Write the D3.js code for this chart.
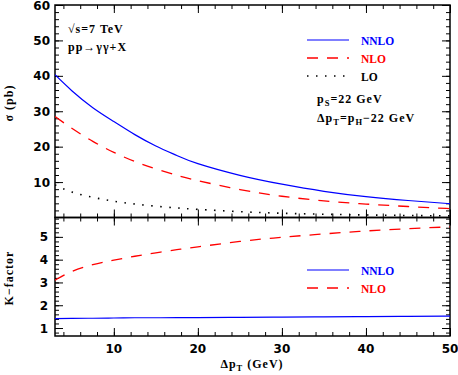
<!DOCTYPE html>
<html>
<head>
<meta charset="utf-8">
<script src="https://cdn.jsdelivr.net/npm/d3@7"></script>
<style>
body { margin: 0; background: #fff }
text { font-family: "Liberation Serif", "DejaVu Serif", serif; font-size: 12px; font-weight: bold }
.wide { letter-spacing: 1px }
.leg { font-size: 11.5px }
.num { font-family: "DejaVu Sans", Arial, sans-serif; font-weight: bold; font-size: 12px; letter-spacing: 0 }
</style>
</head>
<body>
<svg width="458" height="375"></svg>
<script>
// values
var dpt   = [3, 5, 7.5, 10, 12.5, 15, 17.5, 20, 25, 30, 35, 40, 45, 50]
var nnlo  = [40.3, 35.8, 31.0, 27.1, 23.4, 20.2, 17.5, 15.2, 11.9, 9.4, 7.4, 5.9, 4.8, 3.9]
var nlo   = [28.5, 25.2, 21.5, 18.4, 15.8, 13.7, 11.9, 10.4, 7.9, 6.0, 4.7, 3.8, 3.1, 2.5]
var lo    = [9.2, 7.2, 5.7, 4.6, 3.8, 3.2, 2.7, 2.3, 1.65, 1.2, 0.92, 0.72, 0.57, 0.46]
var kNnlo = [1.41, 1.42, 1.43, 1.44, 1.45, 1.45, 1.46, 1.46, 1.47, 1.48, 1.49, 1.50, 1.51, 1.52]
var kNlo  = [3.1, 3.48, 3.78, 3.98, 4.15, 4.3, 4.44, 4.56, 4.8, 4.98, 5.13, 5.26, 5.36, 5.44]

var xMajor = [10, 20, 30, 40, 50]
var xMinor = d3.range(4, 50, 2)
var sigMajor = [10, 20, 30, 40, 50, 60]
var sigMinor = d3.range(2, 60, 2)
var kMajor = [1, 2, 3, 4, 5]
var kMinor = d3.range(0.8, 5.85, 0.2)

var svg = d3.select("svg")
var L = 55, R = 450, T = 5, M = 217.5, B = 336

var x = d3.scaleLinear().domain([3, 50]).range([L, R])
var ySig = d3.scaleLinear().domain([0, 60]).range([M, T])
var yK = d3.scaleLinear().domain([0.65, 5.85]).range([B, M])

function noDomain(g) { g.select(".domain").remove(); g.selectAll("line").attr("stroke-width", 1) }

function panel(y, yMajor, yMinor, top, bot) {
    var ax = [
        [d3.axisBottom, x, bot, 0, xMajor, xMinor],
        [d3.axisTop, x, top, 0, xMajor, xMinor],
        [d3.axisLeft, y, L, 1, yMajor, yMinor],
        [d3.axisRight, y, R, 1, yMajor, yMinor]
    ]
    ax.forEach(function(a) {
        // negative tick size -> ticks point into the panel
        var tr = a[3] ? "translate(" + a[2] + ",0)" : "translate(0," + a[2] + ")"
        svg.append("g").attr("transform", tr)
            .call(a[0](a[1]).tickValues(a[4]).tickSize(-8).tickSizeOuter(0).tickFormat(""))
            .call(noDomain)
        svg.append("g").attr("transform", tr)
            .call(a[0](a[1]).tickValues(a[5]).tickSize(-4).tickSizeOuter(0).tickFormat(""))
            .call(noDomain)
    })
    svg.append("rect").attr("x", L).attr("y", top).attr("width", R - L).attr("height", bot - top)
        .attr("fill", "none").attr("stroke", "#000").attr("stroke-width", 1.5)
}

panel(ySig, sigMajor, sigMinor, T, M)
panel(yK, kMajor, kMinor, M, B)

// tick labels
svg.selectAll(".xl").data(xMajor).enter().append("text").attr("class", "num")
    .attr("x", function(d) { return x(d) }).attr("y", 353).attr("text-anchor", "middle").text(function(d) { return d })
svg.selectAll(".sl").data(sigMajor).enter().append("text").attr("class", "num")
    .attr("x", 50).attr("y", function(d) { return ySig(d) + 4.5 }).attr("text-anchor", "end").text(function(d) { return d })
svg.selectAll(".kl").data(kMajor).enter().append("text").attr("class", "num")
    .attr("x", 48).attr("y", function(d) { return yK(d) + 4.5 }).attr("text-anchor", "end").text(function(d) { return d })

// curves
svg.append("clipPath").attr("id", "cTop").append("rect").attr("x", L).attr("y", T).attr("width", R - L).attr("height", M - T)
svg.append("clipPath").attr("id", "cBot").append("rect").attr("x", L).attr("y", M).attr("width", R - L).attr("height", B - M)

var styles = {
    nnlo: { color: "#0000ff", dash: null, w: 1.2 },
    nlo: { color: "#ff0000", dash: "11,9", w: 1.3 },
    lo: { color: "#000", dash: "1.5,7.5", w: 1.6 }
}

function curve(vals, y, st, clip) {
    var line = d3.line().curve(d3.curveNatural)
        .x(function(d, i) { return x(dpt[i]) }).y(function(d) { return y(d) })
    svg.append("path").datum(vals).attr("d", line).attr("clip-path", "url(#" + clip + ")")
        .attr("fill", "none").attr("stroke", st.color).attr("stroke-width", st.w)
        .attr("stroke-dasharray", st.dash)
}
curve(nnlo, ySig, styles.nnlo, "cTop")
curve(nlo, ySig, styles.nlo, "cTop")
curve(lo, ySig, styles.lo, "cTop")
curve(kNnlo, yK, styles.nnlo, "cBot")
curve(kNlo, yK, styles.nlo, "cBot")

// legends
function legend(items, y0) {
    items.forEach(function(it, i) {
        var y = y0 + i * 18
        svg.append("line").attr("x1", 307).attr("x2", 349).attr("y1", y).attr("y2", y)
            .attr("stroke", it[1].color).attr("stroke-width", it[1].w).attr("stroke-dasharray", it[1].dash)
        svg.append("text").attr("class", "leg").attr("x", 361).attr("y", y + 4.5).attr("fill", it[1].color)
            .text(it[0])
    })
}
legend([["NNLO", styles.nnlo], ["NLO", styles.nlo], ["LO", styles.lo]], 40)
legend([["NNLO", styles.nnlo], ["NLO", styles.nlo]], 270)

// annotations
svg.append("text").attr("class", "wide").attr("x", 68).attr("y", 33).text("\u221As=7  TeV")
svg.append("text").attr("class", "wide").attr("x", 68).attr("y", 51).text("pp\u2192\u03b3\u03b3+X")
var t1 = svg.append("text").attr("class", "wide").attr("x", 317).attr("y", 103)
t1.append("tspan").text("p")
t1.append("tspan").attr("font-size", 8.5).attr("dy", 3).text("S")
t1.append("tspan").attr("dy", -3).text("=22  GeV")
var t2 = svg.append("text").attr("class", "wide").attr("x", 317).attr("y", 122)
t2.append("tspan").text("\u0394p")
t2.append("tspan").attr("font-size", 8.5).attr("dy", 3).text("T")
t2.append("tspan").attr("dy", -3).text("=p")
t2.append("tspan").attr("font-size", 8.5).attr("dy", 3).text("H")
t2.append("tspan").attr("dy", -3).text("\u221222  GeV")

// axis titles
var xt = svg.append("text").attr("class", "wide").attr("x", 252).attr("y", 368).attr("text-anchor", "middle")
xt.append("tspan").text("\u0394p")
xt.append("tspan").attr("font-size", 8.5).attr("dy", 3).text("T")
xt.append("tspan").attr("dy", -3).text("  (GeV)")
svg.append("text").attr("class", "wide").attr("transform", "translate(13,103) rotate(-90)").attr("text-anchor", "middle").text("\u03c3  (pb)")
svg.append("text").attr("class", "wide").attr("transform", "translate(13,278) rotate(-90)").attr("text-anchor", "middle").text("K\u2212factor")
</script>
</body>
</html>
